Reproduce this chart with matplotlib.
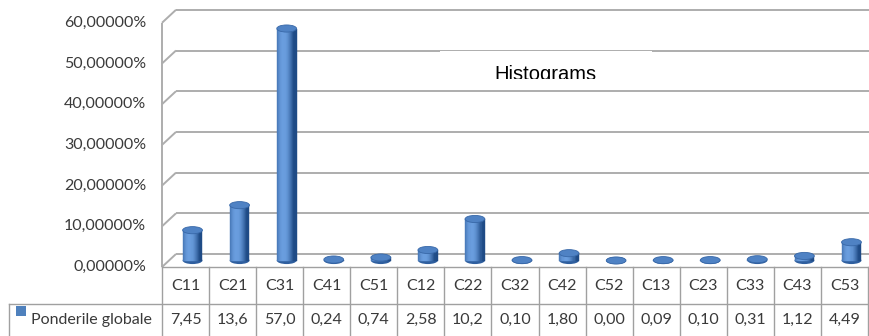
import numpy as np
import matplotlib.pyplot as plt
from matplotlib.patches import Ellipse, Rectangle
from matplotlib.colors import to_rgb
from matplotlib.transforms import (offset_copy, blended_transform_factory,
                                   Bbox, TransformedBbox, IdentityTransform)

plt.rcParams['font.family'] = ['Lato', 'DejaVu Sans']

# --- Data ---
criteria = ['C11', 'C21', 'C31', 'C41', 'C51', 'C12', 'C22', 'C32',
            'C42', 'C52', 'C13', 'C23', 'C33', 'C43', 'C53']
weights = [7.45, 13.6, 57.0, 0.24, 0.74, 2.58, 10.2, 0.10,
           1.80, 0.00, 0.09, 0.10, 0.31, 1.12, 4.49]
series_name = 'Ponderile globale'
y_ticks = [0, 10, 20, 30, 40, 50, 60]
title = 'Histograms'

W, H, DPI = 870, 336, 100


def fx(px):
    return px / W


def fy(py):
    return 1 - py / H


def fmt_value(v):
    s = f"{v:.1f}" if v >= 10 else f"{v:.2f}"
    return s.replace('.', ',')


fig = plt.figure(figsize=(W / DPI, H / DPI), dpi=DPI)

# axes = front plane of the 3D box
x_left, x_right = 162, 868
y_base, y_top = 267, 22.8
ax = fig.add_axes([fx(x_left), fy(y_base), (x_right - x_left) / W, (y_base - y_top) / H])
n = len(criteria)
ax.set_xlim(-0.5, n - 0.5)
ax.set_ylim(0, 60)
ax.axis('off')

depth = (14, 13)  # pixel shift from front to back wall
mid = offset_copy(ax.transData, fig=fig, x=depth[0] / 2, y=depth[1] / 2, units='dots')
back = offset_copy(ax.transData, fig=fig, x=depth[0], y=depth[1], units='dots')

# --- walls and gridlines ---
grid_kw = dict(color='#adadad', lw=1.4, clip_on=False, zorder=1, solid_capstyle='butt')
for t in y_ticks:
    ax.plot([-0.5, n + 1], [t, t], transform=back, **grid_kw)
    px0, py0 = ax.transData.transform((-0.5, t))
    ax.plot([px0, px0 + depth[0]], [py0, py0 + depth[1]],
            transform=IdentityTransform(), **grid_kw)
ax.plot([-0.5, -0.5], [0, 60], **grid_kw)

label_tr = blended_transform_factory(fig.transFigure, ax.transData)
for t in y_ticks:
    ax.text(fx(146), t, f"{t:.5f}".replace('.', ',') + '%', transform=label_tr,
            ha='right', va='center', fontsize=11.5, color='#3a3a3a')

# --- title box ---
ax.add_patch(Rectangle((fx(440), fy(89)), fx(652) - fx(440), fy(51) - fy(89),
                       transform=fig.transFigure, facecolor='white', edgecolor='none',
                       clip_on=False, zorder=2))
ttl = ax.text(fx(545), fy(80), title, transform=fig.transFigure, ha='center',
              va='baseline', fontsize=14.5, family='Liberation Sans', color='black', zorder=2.5)
ttl.set_clip_box(TransformedBbox(Bbox([[fx(440), fy(78.5)], [fx(652), fy(51)]]), fig.transFigure))
ttl.set_clip_on(True)

# --- cylinders ---
bar_w = 0.42
cap_h = 1.75
n_strips = 18
dark = np.array(to_rgb('#1f4b86'))
light = np.array(to_rgb('#6a9edf'))
edges = np.linspace(-bar_w / 2, bar_w / 2, n_strips + 1)
for i, v in enumerate(weights):
    ax.add_patch(Ellipse((i, 0), bar_w, cap_h, transform=mid, facecolor='#2f5f9f',
                         edgecolor='none', clip_on=False, zorder=3))
    for k in range(n_strips):
        u = (k + 0.5) / n_strips
        s = max(0.0, np.cos((u - 0.35) * np.pi * 0.95))
        col = dark + (light - dark) * s
        ax.add_patch(Rectangle((i + edges[k], 0), edges[k + 1] - edges[k], v,
                               transform=mid, facecolor=col, edgecolor=col, lw=0.3,
                               clip_on=False, zorder=4))
    ax.add_patch(Ellipse((i, v), bar_w, cap_h, transform=mid, facecolor='#4f82c4',
                         edgecolor='#3868a8', lw=0.6, clip_on=False, zorder=5))

# --- data table ---
tab = blended_transform_factory(ax.transData, fig.transFigure)
line_kw = dict(color='#a0a0a0', lw=1.0, clip_on=False, zorder=1)
ax.plot([-0.5, n - 0.5], [fy(267), fy(267)], transform=tab, **line_kw)
ax.plot([fx(9), fx(x_right)], [fy(303.5), fy(303.5)], transform=fig.transFigure, **line_kw)
ax.plot([fx(9), fx(9)], [fy(303.5), fy(336)], transform=fig.transFigure, **line_kw)
for k in range(n + 1):
    ax.plot([k - 0.5, k - 0.5], [fy(267), fy(336)], transform=tab, **line_kw)
for i, (c, v) in enumerate(zip(criteria, weights)):
    ax.text(i, fy(286), c, transform=tab, ha='center', va='center',
            fontsize=11.5, color='#3a3a3a')
    ax.text(i, fy(320), fmt_value(v), transform=tab, ha='center', va='center',
            fontsize=11.5, color='#3a3a3a')

ax.add_patch(Rectangle((fx(16), fy(315.5)), fx(26) - fx(16), fy(306) - fy(315.5),
                       transform=fig.transFigure, facecolor='#4f81bd', edgecolor='none',
                       clip_on=False))
ax.text(fx(31), fy(320), series_name, transform=fig.transFigure, ha='left', va='center',
        fontsize=11.5, color='#3a3a3a')

fig.savefig('out.png', dpi=DPI)
